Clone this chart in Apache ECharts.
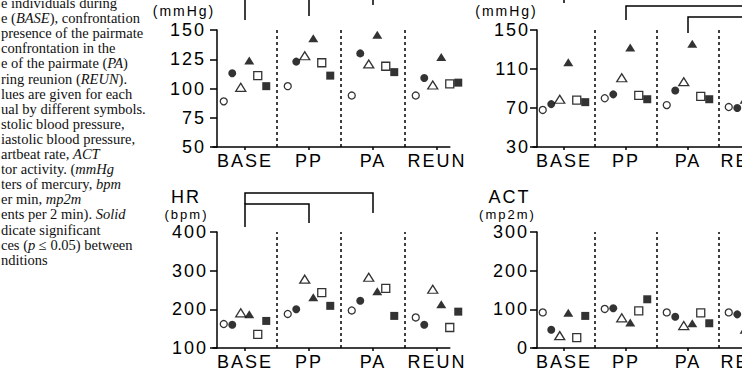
<!DOCTYPE html>
<html>
<head>
<meta charset="utf-8">
<script src="https://cdn.jsdelivr.net/npm/echarts@6/dist/echarts.min.js"></script>
<style>
  html, body { margin: 0; padding: 0; background: #fff; }
  #chart { width: 742px; height: 381px; }
  /* the figure uses widely spaced sans text */
  #chart text { letter-spacing: 2px; }
  #chart text[style*="Serif"] { letter-spacing: 0; }
</style>
</head>
<body>
<div id="chart"></div>
<script>
const conditions = ['BASE', 'PP', 'PA', 'REUN']

// one row per animal (same symbol in every panel), one column per condition
const sbpValues = [
  [89, 102, 94, 94],
  [113, 123, 130, 109],
  [101, 128, 121, 103],
  [124, 143, 146, 127],
  [111, 122, 119, 104],
  [102, 111, 114, 105]
]
const dbpValues = [
  [68, 80, 73, 71],
  [74, 84, 88, 70],
  [79, 101, 97, 79],
  [117, 132, 136, 118],
  [78, 83, 82, 76],
  [76, 79, 79, 75]
]
const hrValues = [
  [162, 188, 197, 179],
  [160, 200, 222, 160],
  [191, 278, 283, 252],
  [187, 231, 247, 213],
  [135, 243, 254, 153],
  [170, 209, 183, 194]
]
const actValues = [
  [92, 101, 92, 92],
  [47, 103, 81, 87],
  [32, 78, 58, 49],
  [91, 66, 64, 60],
  [27, 96, 91, 75],
  [83, 126, 64, 70]
]

const sbpTicks = [50, 75, 100, 125, 150]
const dbpTicks = [30, 70, 110, 150]
const hrTicks = [100, 200, 300, 400]
const actTicks = [0, 100, 200, 300]

// significant differences
const sbpPairs = [['BASE', 'PP'], ['BASE', 'PA']]
const dbpPairs = [['PP', 'REUN'], ['PA', 'REUN'], ['BASE', 'REUN']]
const hrPairs = [['BASE', 'PP'], ['BASE', 'PA']]
const actPairs = []

const captionLines = [
  'e individuals during',
  'e (*BASE*), confrontation',
  'presence of the pairmate',
  'confrontation in the',
  'e of the pairmate (*PA*)',
  'ring reunion (*REUN*).',
  'lues are given for each',
  'ual by different symbols.',
  'stolic blood pressure,',
  'iastolic blood pressure,',
  'artbeat rate, *ACT*',
  'tor activity. (*mmHg*',
  'ters of mercury, *bpm*',
  'er min, *mp2m*',
  'ents per 2 min). *Solid*',
  'dicate significant',
  'ces (*p* ≤ 0.05) between',
  'nditions'
]

const markers = [
  { symbol: 'circle', size: 7, filled: false },
  { symbol: 'circle', size: 8, filled: true },
  { symbol: 'triangle', size: [10, 8], filled: false },
  { symbol: 'triangle', size: [10, 8], filled: true },
  { symbol: 'rect', size: 8, filled: false },
  { symbol: 'rect', size: 8, filled: true }
]
const markerShift = [-21.25, -12.75, -4.25, 4.25, 12.75, 21.25] // px from group centre

const SANS = 'Liberation Sans'
const SERIF = 'Liberation Serif'

const panels = [
  {
    values: sbpValues, ticks: sbpTicks, pairs: sbpPairs,
    grid: { left: 213, top: 30, width: 236.8, height: 117 }, band: 64, xMax: 3.2, labelMargin: 11,
    titles: [{ text: '(mmHg)', size: 14, x: 184, y: 11 }],
    brackets: [{ dy: -33, legL: 23, legR: 19 }, { dy: -45, legL: 11, legR: 20 }]
  },
  {
    values: dbpValues, ticks: dbpTicks, pairs: dbpPairs,
    grid: { left: 533, top: 30, width: 248, height: 117 }, band: 62, xMax: 3.5, labelMargin: 7,
    titles: [{ text: '(mmHg)', size: 14, x: 506.5, y: 11 }],
    brackets: [{ dy: -24, legL: 14, legR: 14 }, { dy: -13, legL: 16, legR: 16 }, { dy: -40, legL: 13, legR: 13 }]
  },
  {
    values: hrValues, ticks: hrTicks, pairs: hrPairs,
    grid: { left: 213, top: 232, width: 236.8, height: 116 }, band: 64, xMax: 3.2, labelMargin: 9,
    titles: [{ text: 'HR', size: 18, x: 186, y: 196.5 }, { text: '(bpm)', size: 13, x: 186.5, y: 214.5 }],
    brackets: [{ dy: -28, legL: 23, legR: 19 }, { dy: -39, legL: 11, legR: 20 }]
  },
  {
    values: actValues, ticks: actTicks, pairs: actPairs,
    grid: { left: 533, top: 232, width: 248, height: 116 }, band: 62, xMax: 3.5, labelMargin: 8,
    titles: [{ text: 'ACT', size: 18, x: 509.5, y: 196.5 }, { text: '(mp2m)', size: 13, x: 507.5, y: 214.5 }],
    brackets: []
  }
]

const black = '#000'
const grids = [], xAxes = [], yAxes = [], series = [], graphics = []

panels.forEach((p, pi) => {
  grids.push({ ...p.grid, outerBoundsMode: 'none', containLabel: false })

  xAxes.push({
    type: 'value', gridIndex: pi, min: -0.5, max: p.xMax,
    axisLine: { show: true, onZero: false, lineStyle: { color: black, width: 1.5 } },
    axisTick: { show: true, length: 3, customValues: [0, 1, 2, 3], lineStyle: { color: black, width: 1.5 } },
    axisLabel: {
      customValues: [0, 1, 2, 3], margin: 5, color: black, fontSize: 18, fontFamily: SANS,
      formatter: v => conditions[Math.round(v)]
    },
    splitLine: { show: false }
  })

  yAxes.push({
    type: 'value', gridIndex: pi, min: p.ticks[0], max: p.ticks[p.ticks.length - 1], offset: -4,
    axisLine: { show: true, onZero: false, lineStyle: { color: black, width: 1.5 } },
    axisTick: { show: true, length: 7, customValues: p.ticks, lineStyle: { color: black, width: 1.5 } },
    axisLabel: { customValues: p.ticks, margin: p.labelMargin, color: black, fontSize: 18, fontFamily: SANS },
    splitLine: { show: false }
  })

  markers.forEach((m, s) => {
    series.push({
      type: 'scatter', xAxisIndex: pi, yAxisIndex: pi, clip: false, silent: true,
      symbol: m.symbol, symbolSize: m.size,
      itemStyle: m.filled
        ? { color: black }
        : { color: '#fff', borderColor: black, borderWidth: 1.3 },
      data: p.values[s].map((v, g) => [g + markerShift[s] / p.band, v]),
      markLine: s === 0 ? {
        silent: true, symbol: ['none', 'none'], label: { show: false },
        lineStyle: { color: black, width: 1.5, type: [3, 3] },
        data: [{ xAxis: 0.5 }, { xAxis: 1.5 }, { xAxis: 2.5 }, { xAxis: 3.5 }]
      } : undefined
    })
  })

  if (p.pairs.length) {
    series.push({
      type: 'custom', xAxisIndex: pi, yAxisIndex: pi, silent: true,
      encode: { x: [0, 1] },
      data: p.pairs.map((pair, k) => [
        conditions.indexOf(pair[0]), conditions.indexOf(pair[1]),
        p.brackets[k].dy, p.brackets[k].legL, p.brackets[k].legR
      ]),
      renderItem(params, api) {
        const yRef = p.ticks[0]
        const x1 = api.coord([api.value(0), yRef])[0]
        const x2 = api.coord([api.value(1), yRef])[0]
        const y = params.coordSys.y + api.value(2)
        return {
          type: 'polyline',
          shape: { points: [[x1, y + api.value(3)], [x1, y], [x2, y], [x2, y + api.value(4)]] },
          style: { stroke: black, lineWidth: 1.5, fill: null }
        }
      }
    })
  }

  p.titles.forEach(t => {
    graphics.push({
      type: 'text', x: t.x, y: t.y, silent: true,
      style: {
        text: t.text, fontSize: t.size, fontFamily: SANS, fill: black,
        textAlign: 'center', textVerticalAlign: 'middle', align: 'center', verticalAlign: 'middle'
      }
    })
  })
})

// caption fragment on the left, *...* marks italics
captionLines.forEach((line, k) => {
  graphics.push({
    type: 'text', x: 1, y: 3 + 15.1 * k, silent: true,
    style: {
      text: line.replace(/\*([^*]+)\*/g, '{i|$1}'),
      fontSize: 14.5, fontFamily: SERIF, fill: '#111',
      textVerticalAlign: 'middle', verticalAlign: 'middle',
      rich: { i: { fontSize: 14.5, fontFamily: SERIF, fontStyle: 'italic', fill: '#111' } }
    }
  })
})

const chart = echarts.init(document.getElementById('chart'), null, { renderer: 'svg' })
chart.setOption({
  animation: false,
  backgroundColor: '#fff',
  textStyle: { fontFamily: SANS },
  grid: grids,
  xAxis: xAxes,
  yAxis: yAxes,
  series,
  graphic: graphics
})
</script>
</body>
</html>
